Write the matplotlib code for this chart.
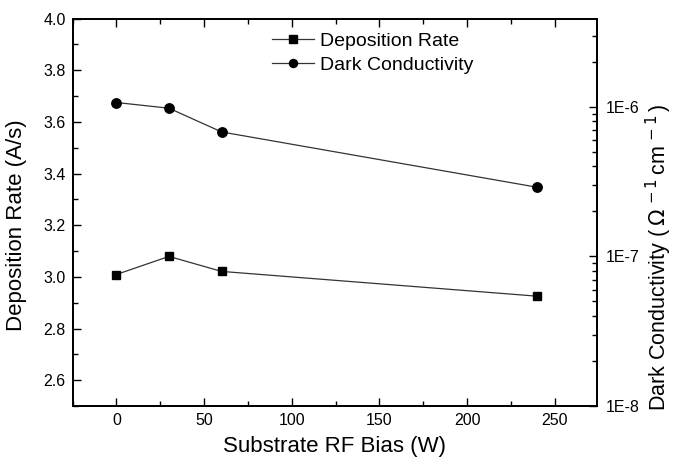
import matplotlib
matplotlib.use('Agg')
import matplotlib.pyplot as plt
from matplotlib.ticker import MultipleLocator, LogLocator, FixedLocator, NullFormatter

plt.rcParams['font.family'] = ['Liberation Sans', 'DejaVu Sans']

# ===============================
# Data
# ===============================
rf_bias = [0, 30, 60, 240]
deposition_rate = [3.009, 3.079, 3.021, 2.925]
dark_conductivity = [1.07e-6, 0.98e-6, 0.68e-6, 0.29e-6]

line_color = '#333333'

fig = plt.figure(figsize=(6.76, 4.63), dpi=100)
ax = fig.add_axes([72.5 / 676, 1 - 406 / 463, (597 - 72.5) / 676, (406 - 18.5) / 463])
ax2 = ax.twinx()

h1, = ax.plot(rf_bias, deposition_rate, color=line_color, lw=0.9,
              marker='s', ms=6.2, mfc='black', mec='black', label='Deposition Rate')
h2, = ax2.plot(rf_bias, dark_conductivity, color=line_color, lw=0.9,
               marker='o', ms=6.8, mfc='black', mec='black', label='Dark Conductivity')

ax.set_xlim(-25, 274)
ax.set_ylim(2.5, 4.0)
ax.xaxis.set_major_locator(MultipleLocator(50))
ax.xaxis.set_minor_locator(MultipleLocator(25))
ax.yaxis.set_major_locator(MultipleLocator(0.2))
ax.yaxis.set_minor_locator(MultipleLocator(0.1))
ax.yaxis.set_major_formatter(matplotlib.ticker.FormatStrFormatter('%.1f'))

ax2.set_yscale('log')
ax2.set_ylim(1e-8, 3.9e-6)
ax2.yaxis.set_major_locator(FixedLocator([1e-8, 1e-7, 1e-6]))
ax2.yaxis.set_minor_locator(LogLocator(base=10, subs=range(2, 10), numticks=20))
ax2.yaxis.set_minor_formatter(NullFormatter())
ax2.set_yticklabels(['1E-8', '1E-7', '1E-6'])

ax.tick_params(axis='both', which='both', direction='in', top=True, right=False,
               labelsize=11.5, pad=5)
ax.tick_params(which='major', length=6, width=1)
ax.tick_params(which='minor', length=3.5, width=1)
ax2.tick_params(axis='y', which='both', direction='in', labelsize=11.5, pad=6)
ax2.tick_params(which='major', length=6, width=1)
ax2.tick_params(which='minor', length=3.5, width=1)

for a in (ax, ax2):
    for s in a.spines.values():
        s.set_linewidth(1.3)

ax.set_xlabel('Substrate RF Bias (W)', fontsize=16, labelpad=6)
ax.set_ylabel('Deposition Rate (A/s)', fontsize=16)
ax.yaxis.set_label_coords(-0.087, 0.467)
ax2.set_ylabel(r'Dark Conductivity ($\,\Omega^{\,-1}\,$cm$^{\,-1}\,$)', fontsize=15.5)
ax2.yaxis.set_label_coords(1.09, 0.385)

ax.legend(handles=[h1, h2], loc='upper center', bbox_to_anchor=(0.572, 1.0),
          frameon=False, fontsize=14, handlelength=2.2, handletextpad=0.3,
          labelspacing=0.35, borderaxespad=0.3, markerscale=0.85)

fig.savefig('out.png', dpi=100)
